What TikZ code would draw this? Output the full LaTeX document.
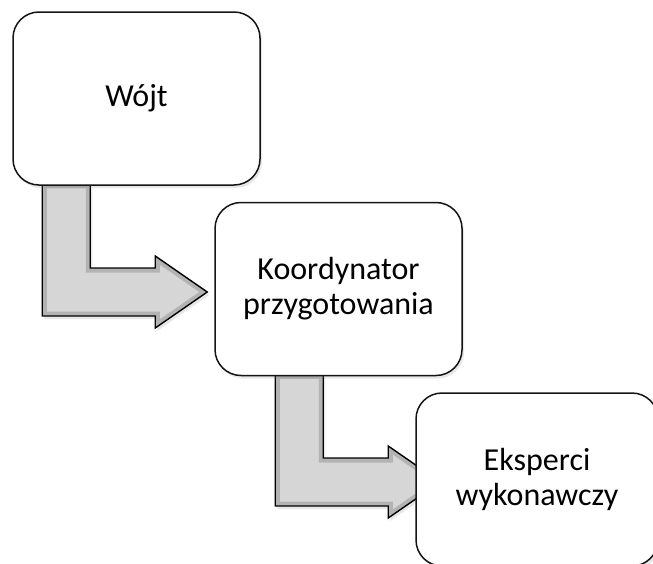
\documentclass[tikz,border=0pt]{standalone}
\usepackage{fontspec}
\setmainfont{Carlito}
\usetikzlibrary{calc,backgrounds,shadows}
\definecolor{ArrowClr}{rgb}{0.84,0.84,0.84}
\definecolor{BevelClr}{rgb}{0.45,0.45,0.45}
\definecolor{EdgeClr}{rgb}{0.08,0.08,0.08}

% bent block arrow: #1 = box it leaves, #2 = tip coordinate
\newcommand{\BentArrow}[2]{%
  \def\arrowpath{($(#2 |- #1.south)+(-165,-2)$) -- ++(48,0)
    -- ($(#2)+(-117,-24)$) -- ($(#2)+(-52,-24)$) -- ($(#2)+(-52,-36)$)
    -- (#2) -- ($(#2)+(-52,36)$) -- ($(#2)+(-52,24)$)
    -- ($(#2)+(-165,24)$) -- cycle}%
  \fill[bentarrow] \arrowpath;
  \begin{scope}
    \clip \arrowpath;
    \draw[BevelClr,opacity=.35,line width=9pt,line join=miter] \arrowpath;
  \end{scope}
  \draw[black,line width=1.4pt,line join=miter] \arrowpath;}

\begin{document}
\begin{tikzpicture}[x=1pt,y=-1pt,
  box/.style={draw=EdgeClr,line width=1.5pt,fill=white,rounded corners=26pt,
    minimum width=247pt,minimum height=173pt,align=center,
    font=\fontsize{32}{35}\selectfont,
    drop shadow={shadow xshift=2pt,shadow yshift=-3pt,opacity=.18}},
  bentarrow/.style={fill=ArrowClr,
    drop shadow={shadow xshift=2pt,shadow yshift=-3pt,opacity=.18}}]
\useasboundingbox (0,0) rectangle (653,563);

\node[box] (wojt) at (136.5,98.5) {Wójt};
\node[box] (koord) at (338.5,289) {Koordynator\\przygotowania};
\node[box,minimum width=242pt] (eksp) at (537,479.5) {Eksperci\\wykonawczy};

\coordinate (tipA) at ($(koord.west)+(-7,3)$);
\coordinate (tipB) at ($(eksp.west)+(25,2.5)$);

\begin{scope}[on background layer]
\BentArrow{wojt}{tipA}
\BentArrow{koord}{tipB}
\end{scope}

\end{tikzpicture}
\end{document}
